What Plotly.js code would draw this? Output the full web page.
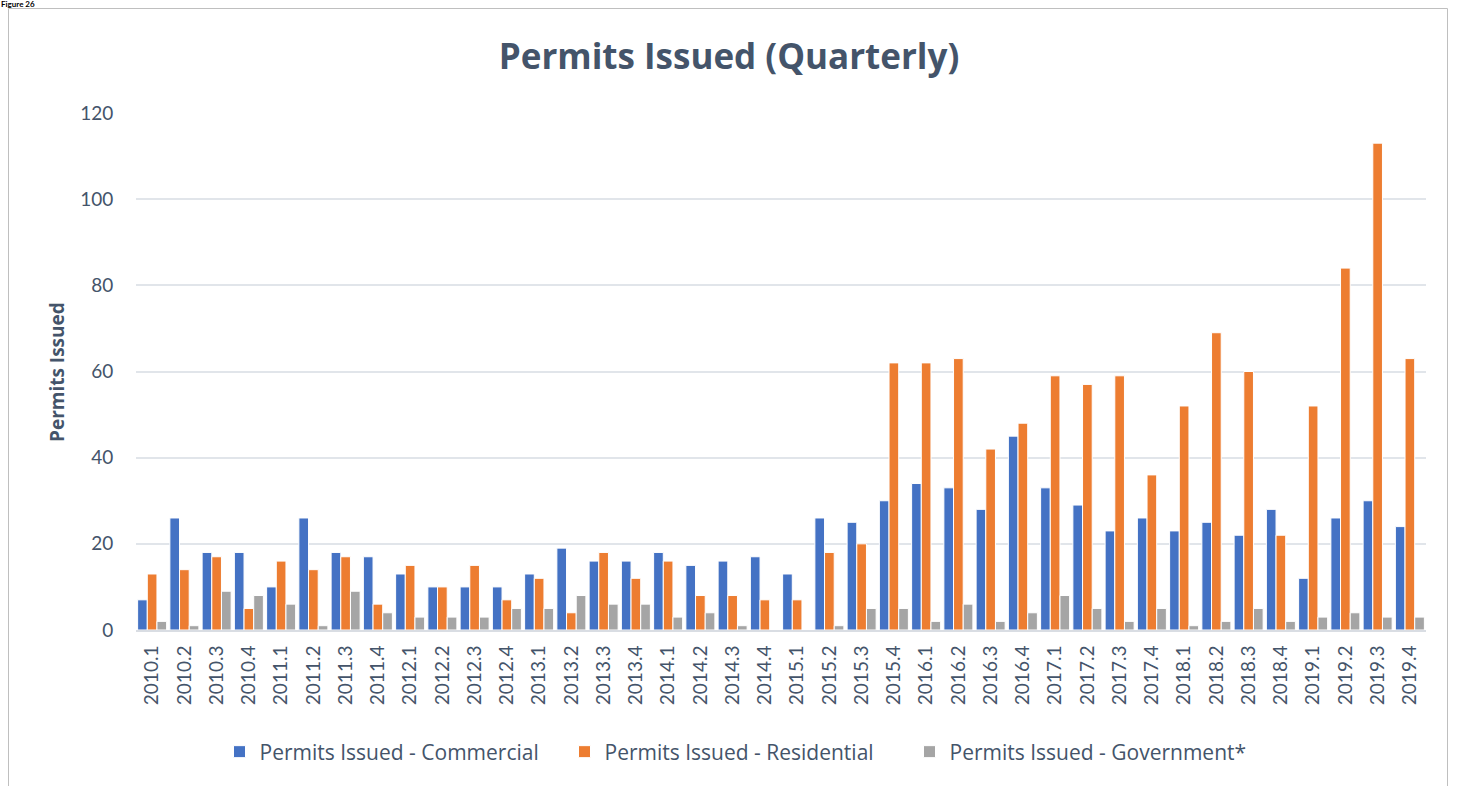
<!DOCTYPE html>
<html>
<head>
<meta charset="utf-8">
<script src="https://cdn.plot.ly/plotly-3.0.1.min.js"></script>
<style>
  html, body { margin: 0; padding: 0; background: #ffffff; overflow: hidden; }
  #fig { position: absolute; left: 1px; top: 0px; font-family: Lato, sans-serif; font-weight: bold; font-size: 8px; line-height: 8px; color: #000; }
  #chart { position: absolute; left: 0; top: 0; width: 1458px; height: 786px; }
</style>
</head>
<body>
<div id="chart"></div>
<div id="fig">Figure 26</div>
<script>
const quarters = [
  "2010.1","2010.2","2010.3","2010.4","2011.1","2011.2","2011.3","2011.4",
  "2012.1","2012.2","2012.3","2012.4","2013.1","2013.2","2013.3","2013.4",
  "2014.1","2014.2","2014.3","2014.4","2015.1","2015.2","2015.3","2015.4",
  "2016.1","2016.2","2016.3","2016.4","2017.1","2017.2","2017.3","2017.4",
  "2018.1","2018.2","2018.3","2018.4","2019.1","2019.2","2019.3","2019.4"
];
const commercial = [7,26,18,18,10,26,18,17,13,10,10,10,13,19,16,16,18,15,16,17,13,26,25,30,34,33,28,45,33,29,23,26,23,25,22,28,12,26,30,24];
const residential = [13,14,17,5,16,14,17,6,15,10,15,7,12,4,18,12,16,8,8,7,7,18,20,62,62,63,42,48,59,57,59,36,52,69,60,22,52,84,113,63];
const government = [2,1,9,8,6,1,9,4,3,3,3,5,5,8,6,6,3,4,1,0,0,1,5,5,2,6,2,4,8,5,2,5,1,2,5,2,3,4,3,3];
const seriesNames = ["Permits Issued - Commercial","Permits Issued - Residential","Permits Issued - Government*"];
const yTicks = [0,20,40,60,80,100,120];

const textColor = "#44546A";
const font = "Lato, 'Open Sans', sans-serif";
const wideFont = "'Open Sans', Lato, sans-serif";

function barTrace(name, vals, color) {
  return {
    type: "bar", name: name, x: quarters, y: vals,
    marker: { color: color, line: { color: "#ffffff", width: 1 } },
    hoverinfo: "x+y+name"
  };
}

const data = [
  barTrace(seriesNames[0], commercial, "#4472C4"),
  barTrace(seriesNames[1], residential, "#ED7D31"),
  barTrace(seriesNames[2], government, "#A5A5A5")
];

const W = 1458, H = 786, L = 136, R = 1426, T = 113, B = 630;
const pw = R - L, ph = B - T;
function px(x) { return (x - L) / pw; }
function py(y) { return (B - y) / ph; }

const layout = {
  width: W, height: H,
  margin: { l: L, r: W - R, t: T, b: H - B, pad: 0 },
  paper_bgcolor: "rgba(0,0,0,0)",
  plot_bgcolor: "#ffffff",
  font: { family: font, color: textColor, size: 19 },
  title: {
    text: "<b>Permits Issued (Quarterly)</b>",
    font: { family: wideFont, size: 35, color: textColor },
    x: 0.5, xanchor: "center", y: 1 - 57 / H, yanchor: "middle"
  },
  barmode: "group",
  bargap: 0.1,
  bargroupgap: 0,
  xaxis: {
    type: "category",
    tickangle: -90,
    tickfont: { size: 19, color: textColor, family: font },
    ticks: "outside", ticklen: 6, tickcolor: "rgba(0,0,0,0)",
    showline: true, linecolor: "#D9DDE3", linewidth: 2,
    showgrid: false, fixedrange: true
  },
  yaxis: {
    range: [0, 120],
    tickvals: yTicks,
    tickfont: { size: 19, color: textColor, family: font },
    ticks: "outside", ticklen: 18, tickcolor: "rgba(0,0,0,0)",
    showgrid: true, gridcolor: "#E1E5EA", gridwidth: 2,
    zeroline: false, showline: false, fixedrange: true
  },
  showlegend: true,
  legend: {
    orientation: "h",
    x: px(737), xanchor: "center",
    y: py(752), yanchor: "middle",
    font: { size: 21, color: textColor, family: wideFont },
    entrywidth: 300, entrywidthmode: "pixels",
    bgcolor: "rgba(0,0,0,0)"
  },
  annotations: [
    {
      text: "<b>Permits Issued</b>",
      xref: "paper", yref: "paper",
      x: px(57), y: py(372), xanchor: "center", yanchor: "middle",
      textangle: -90, showarrow: false,
      font: { size: 19, color: textColor, family: wideFont }
    }
  ],
  shapes: [
    {
      type: "rect", xref: "paper", yref: "paper",
      x0: px(8.5), x1: px(1447.5), y0: py(820), y1: py(8.5),
      line: { color: "#BFBFBF", width: 1 }, fillcolor: "rgba(0,0,0,0)",
      layer: "below"
    }
  ]
};

Plotly.newPlot("chart", data, layout, { displayModeBar: false, staticPlot: true });
</script>
</body>
</html>
